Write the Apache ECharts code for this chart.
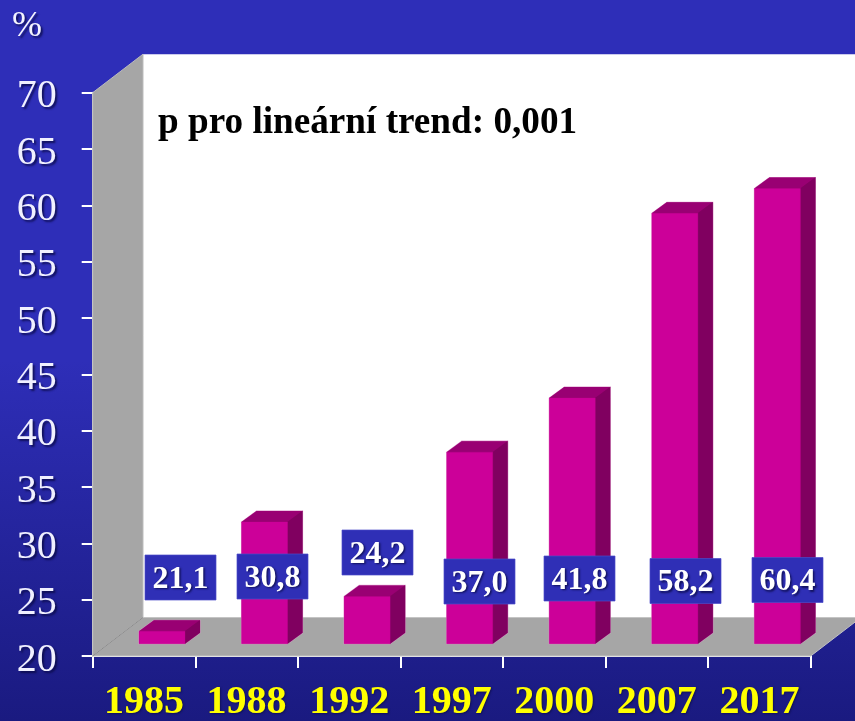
<!DOCTYPE html>
<html>
<head>
<meta charset="utf-8">
<style>html,body{margin:0;padding:0;background:#2e2eb8}#c{width:855px;height:721px}</style>
<script src="https://cdn.jsdelivr.net/npm/echarts@6/dist/echarts.min.js"></script>
</head>
<body>
<div id="c"></div>
<script>
const years = ['1985', '1988', '1992', '1997', '2000', '2007', '2017'];
const prevalence = [21.1, 30.8, 24.2, 37.0, 41.8, 58.2, 60.4];
const valueLabels = ['21,1', '30,8', '24,2', '37,0', '41,8', '58,2', '60,4'];
const yTicks = { min: 20, max: 70, interval: 5 };
const titleText = 'p pro lineární trend: 0,001';
const unitText = '%';

// layout (pixels)
const labelBoxTops = [555, 554, 530, 559, 556, 558.5, 557.5];
const labelBoxLefts = [145, 237, 342, 444, 544, 650, 752];
const BOX_W = 71, BOX_H = 45;
const BAR_W = 46, BAR_DX = 18, BAR_DY = -12.3, DEPTH_X = 15, DEPTH_Y = 11;
const BACK_X = 50.3, BACK_Y = 38.5;

const serif = '"Liberation Serif", "Times New Roman", serif';
const chart = echarts.init(document.getElementById('c'), null, { renderer: 'canvas' });

function poly(points, fill, stroke, lw) {
  return { type: 'polygon', shape: { points: points },
    style: { fill: fill, stroke: stroke || null, lineWidth: lw || 0 } };
}

function renderBackdrop(params, api) {
  const band = api.size([1, 0])[0];
  const o = api.coord([0, yTicks.min]); const t = api.coord([0, yTicks.max]);
  const x0 = o[0] - band / 2, y0 = o[1], yT = t[1];
  const x1 = x0 + band * years.length;
  const bx = x0 + BACK_X, by = y0 - BACK_Y, byT = yT - BACK_Y, brx = x1 + BACK_X;
  return { type: 'group', children: [
    poly([[bx, byT], [brx, byT], [brx, by], [bx, by]], '#ffffff'),
    poly([[x0, yT], [bx, byT], [bx, by], [x0, y0]], '#a6a6a6', '#bdbdbd', 1),
    poly([[x0, y0], [bx, by], [brx, by], [x1, y0]], '#a6a6a6', '#c4c4c4', 1),
    { type: 'line', shape: { x1: x0, y1: y0, x2: bx, y2: by }, style: { stroke: '#8c8c8c', lineWidth: 1 } }
  ] };
}

function renderBar(params, api) {
  const i = api.value(0);
  const top = api.coord([i, api.value(1)]);
  const base = api.coord([i, yTicks.min]);
  const l = top[0] + BAR_DX - BAR_W / 2, r = l + BAR_W;
  const yt = top[1] + BAR_DY, yb = base[1] + BAR_DY;
  const halo = 'rgba(240,170,220,0.6)';
  return { type: 'group', children: [
    poly([[l, yt], [l + DEPTH_X, yt - DEPTH_Y], [r + DEPTH_X, yt - DEPTH_Y], [r + DEPTH_X, yb - DEPTH_Y], [r, yb], [l, yb]], '#800060', halo, 1.2),
    poly([[l, yt], [r, yt], [r + DEPTH_X, yt - DEPTH_Y], [l + DEPTH_X, yt - DEPTH_Y]], '#990073', '#990073', 0.3),
    poly([[r, yt], [r + DEPTH_X, yt - DEPTH_Y], [r + DEPTH_X, yb - DEPTH_Y], [r, yb]], '#800060', '#800060', 0.3),
    { type: 'rect', shape: { x: l, y: yt, width: BAR_W, height: yb - yt },
      style: { fill: '#cc0099', stroke: '#cc0099', lineWidth: 0.3 } }
  ] };
}

function renderLabel(params, api) {
  const i = api.value(0);
  const x = labelBoxLefts[i], y = labelBoxTops[i];
  return { type: 'group', children: [
    { type: 'rect', shape: { x: x, y: y, width: BOX_W, height: BOX_H },
      style: { fill: '#2f2fb6', stroke: '#4a4ac8', lineWidth: 0.7 } },
    { type: 'text', x: x + BOX_W / 2, y: y + BOX_H / 2 + 2,
      style: { text: valueLabels[i], fill: '#ffffff', align: 'center', verticalAlign: 'middle',
        font: 'bold 32px ' + serif, textShadowColor: 'rgba(10,10,70,0.8)', textShadowBlur: 2,
        textShadowOffsetX: 1.5, textShadowOffsetY: 1.5 } }
  ] };
}

const barData = years.map((y, i) => [i, prevalence[i]]);
const tickStyle = { fontFamily: serif, fontSize: 40, color: '#f0f0ff', padding: [8, 0, 0, 0],
  textShadowColor: 'rgba(10,10,70,0.8)', textShadowBlur: 2, textShadowOffsetX: 2, textShadowOffsetY: 2 };

chart.setOption({
  animation: false,
  backgroundColor: { type: 'linear', x: 0, y: 0, x2: 0, y2: 1, colorStops: [
    { offset: 0, color: '#2e2eb8' }, { offset: 0.5, color: '#2e2eb8' }, { offset: 1, color: '#1a1a80' } ] },
  title: [
    { text: titleText, left: 158, top: 105, padding: 0,
      textStyle: { fontFamily: serif, fontWeight: 'bold', fontSize: 37.2, color: '#000000' } },
    { text: unitText, left: 12, top: 9, padding: 0,
      textStyle: { fontFamily: serif, fontWeight: 'normal', fontSize: 36, color: '#f4f4ff',
        textShadowColor: 'rgba(10,10,70,0.8)', textShadowBlur: 2, textShadowOffsetX: 2, textShadowOffsetY: 2 } }
  ],
  grid: { left: 92.7, right: 44.3, top: 92.7, bottom: 65, containLabel: false, outerBoundsMode: 'none' },
  xAxis: { type: 'category', data: years,
    axisLine: { lineStyle: { color: '#ffffff', width: 2 } },
    axisTick: { show: true, length: 12, lineStyle: { color: '#ffffff', width: 2 } },
    splitLine: { show: false },
    axisLabel: { interval: 0, margin: 27, fontFamily: serif, fontWeight: 'bold', fontSize: 40, color: '#ffff00',
      textShadowColor: 'rgba(10,10,60,0.6)', textShadowBlur: 2, textShadowOffsetX: 1, textShadowOffsetY: 1 } },
  yAxis: { type: 'value', min: yTicks.min, max: yTicks.max, interval: yTicks.interval,
    axisLine: { show: true, lineStyle: { color: '#ffffff', width: 2 } },
    axisTick: { show: true, length: 11, lineStyle: { color: '#ffffff', width: 2 } },
    splitLine: { show: false },
    axisLabel: { margin: 36, formatter: '{t|{value}}', rich: { t: tickStyle } } },
  tooltip: { show: false },
  series: [
    { type: 'custom', z: 1, silent: true, renderItem: renderBackdrop, data: [[0, yTicks.min]], encode: { x: 0, y: 1 } },
    { type: 'custom', z: 3, silent: true, renderItem: renderBar, data: barData, encode: { x: 0, y: 1 } },
    { type: 'custom', z: 4, silent: true, renderItem: renderLabel, data: barData, encode: { x: 0, y: 1 } }
  ]
});
</script>
</body>
</html>
